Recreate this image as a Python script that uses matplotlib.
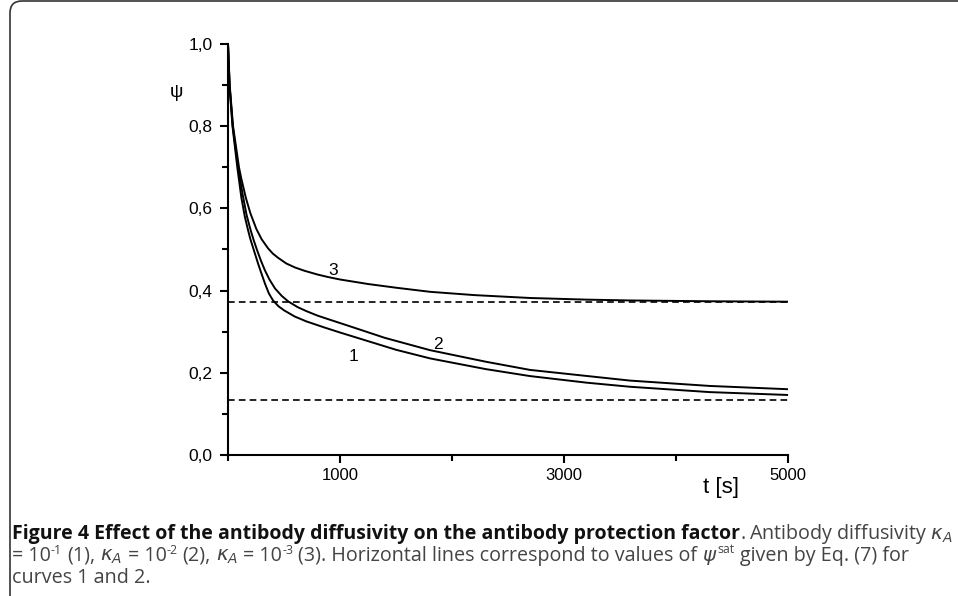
import matplotlib
matplotlib.use("Agg")
import matplotlib.pyplot as plt
from matplotlib.patches import FancyBboxPatch
from matplotlib.transforms import IdentityTransform
from matplotlib.ticker import FixedLocator, FuncFormatter, NullFormatter

# curve 1: kappa_A = 1e-1
t1 = [0, 13, 40, 83, 120, 150, 179, 200, 223, 245, 268, 298, 330, 365, 402, 450, 500, 595,
      700, 863, 1000, 1250, 1500, 1804, 2300, 2696, 3200, 3589, 4300, 5000]
psi1 = [1.0, 0.90, 0.80, 0.70, 0.625, 0.58, 0.547, 0.525, 0.505, 0.486, 0.466, 0.442, 0.417, 0.393,
        0.376, 0.362, 0.352, 0.337, 0.325, 0.310, 0.298, 0.277, 0.256, 0.235, 0.209, 0.192, 0.176,
        0.166, 0.153, 0.146]

# curve 2: kappa_A = 1e-2
t2 = [0, 14, 42, 90, 130, 165, 202, 230, 260, 295, 330, 370, 420, 480, 536, 620, 700, 800, 911,
      1101, 1400, 1804, 2300, 2696, 3589, 4300, 5000]
psi2 = [1.0, 0.90, 0.80, 0.70, 0.635, 0.585, 0.547, 0.522, 0.498, 0.472, 0.449, 0.427, 0.405, 0.387,
        0.374, 0.36, 0.35, 0.339, 0.329, 0.312, 0.285, 0.255, 0.227, 0.207, 0.181, 0.168, 0.160]

# curve 3: kappa_A = 1e-3
t3 = [0, 15, 45, 98, 119, 160, 200, 253, 300, 357, 400, 446, 520, 600, 685, 800, 893, 1000, 1250,
      1500, 1804, 2200, 2696, 3200, 3589, 4300, 5000]
psi3 = [1.0, 0.90, 0.80, 0.70, 0.672, 0.625, 0.588, 0.55, 0.525, 0.503, 0.49, 0.48, 0.466, 0.456,
        0.448, 0.439, 0.433, 0.427, 0.416, 0.407, 0.397, 0.389, 0.382, 0.378, 0.376, 0.374, 0.373]

# saturation values (horizontal dashed lines)
psi_sat = [0.372, 0.134]

x_major = [1000, 3000, 5000]
x_minor = [0, 2000, 4000]
y_major = [0.0, 0.2, 0.4, 0.6, 0.8, 1.0]
y_minor = [0.1, 0.3, 0.5, 0.7, 0.9]

curve_names = ["1", "2", "3"]
name_t = [1116, 1875, 935]
name_psi = [0.239, 0.268, 0.450]

plt.rcParams['font.family'] = ['Liberation Sans', 'DejaVu Sans']

W, H = 958, 596
fig = plt.figure(figsize=(W / 100, H / 100), dpi=100)
ax = fig.add_axes([0.238, 0.2366, 0.5846, 0.6896])

for t, p in [(t1, psi1), (t2, psi2), (t3, psi3)]:
    ax.plot(t, p, color='black', lw=1.4, solid_joinstyle='round')

ax.hlines(psi_sat, 0, 5000, colors='black', lw=1.2, linestyles=(0, (4, 2.5)))

for name, t, p in zip(curve_names, name_t, name_psi):
    ax.text(t, p, name, fontsize=12.5, ha='center', va='center')

ax.set_xlim(0, 5000)
ax.set_ylim(0, 1.0)

ax.xaxis.set_major_locator(FixedLocator(x_major))
ax.xaxis.set_minor_locator(FixedLocator(x_minor))
ax.yaxis.set_major_locator(FixedLocator(y_major))
ax.yaxis.set_minor_locator(FixedLocator(y_minor))
ax.xaxis.set_major_formatter(FuncFormatter(lambda v, pos: f"{v:.0f}"))
ax.yaxis.set_major_formatter(FuncFormatter(lambda v, pos: f"{v:.1f}".replace('.', ',')))
ax.xaxis.set_minor_formatter(NullFormatter())

for side in ['top', 'right']:
    ax.spines[side].set_visible(False)
for side in ['left', 'bottom']:
    ax.spines[side].set_linewidth(1.5)
ax.tick_params(which='major', direction='out', length=6, width=1.5, labelsize=12)
ax.tick_params(axis='y', which='major', labelsize=12.5)
ax.tick_params(which='minor', direction='out', length=4, width=1.5)
ax.tick_params(axis='x', which='major', pad=3.5)
ax.tick_params(axis='y', which='major', pad=5)

ax.text(-0.092, 0.883, "ψ", transform=ax.transAxes, fontsize=13.5, ha='center', va='center')
ax.text(0.88, -0.08, "t [s]", transform=ax.transAxes, fontsize=16, ha='center', va='center')

# rounded frame around the figure (only top-left corner visible)
frame = FancyBboxPatch((10, -200), 1200, 795, boxstyle="round,pad=0,rounding_size=12",
                       transform=IdentityTransform(), fill=False, edgecolor='#333333', lw=1.2)
fig.patches.append(frame)

# caption
cap_font = 'Open Sans'
fs_b = 14.0
fs = 14.2
fs_sup = 8.8
gray = '#444444'
base = [539, 561, 583]
renderer = fig.canvas.get_renderer()


def put(x, y, s, size=fs, rise=0, **kw):
    # place one run of text at pixel x (from left), baseline y (from top); return new x
    sw = 0.26 * size * 100 / 72
    lead = len(s) - len(s.lstrip(' '))
    trail = len(s) - len(s.rstrip(' '))
    x += lead * sw
    txt = fig.text(x / W, 1 - (y - rise) / H, s.strip(' '), fontsize=size, family=cap_font,
                   color=kw.pop('color', gray), va='baseline', **kw)
    bb = txt.get_window_extent(renderer=renderer)
    return bb.x1 + trail * sw


x = put(12, base[0], "Figure 4 Effect of the antibody diffusivity on the antibody protection factor",
        size=fs_b, fontweight='bold', color='#111111')
put(x, base[0], ".")
fig.text(953 / W, 1 - base[0] / H, r"Antibody diffusivity $\kappa_A$",
         fontsize=fs, family=cap_font, color=gray, va='baseline', ha='right')

runs = [("= 10", fs, 0), ("-1", fs_sup, 7), (" (1), ", fs, 0), (r"$\kappa_A$", fs, 0),
        (" = 10", fs, 0), ("-2", fs_sup, 7), (" (2), ", fs, 0), (r"$\kappa_A$", fs, 0),
        (" = 10", fs, 0), ("-3", fs_sup, 7),
        (" (3). Horizontal lines correspond to values of ", fs, 0), (r"$\psi$", fs, 0),
        ("sat", fs_sup, 8), (" given by Eq. (7) for", fs, 0)]
x = 12
for s, size, rise in runs:
    x = put(x, base[1], s, size=size, rise=rise)

put(12, base[2], "curves 1 and 2.")

fig.savefig("out.png", dpi=100)
